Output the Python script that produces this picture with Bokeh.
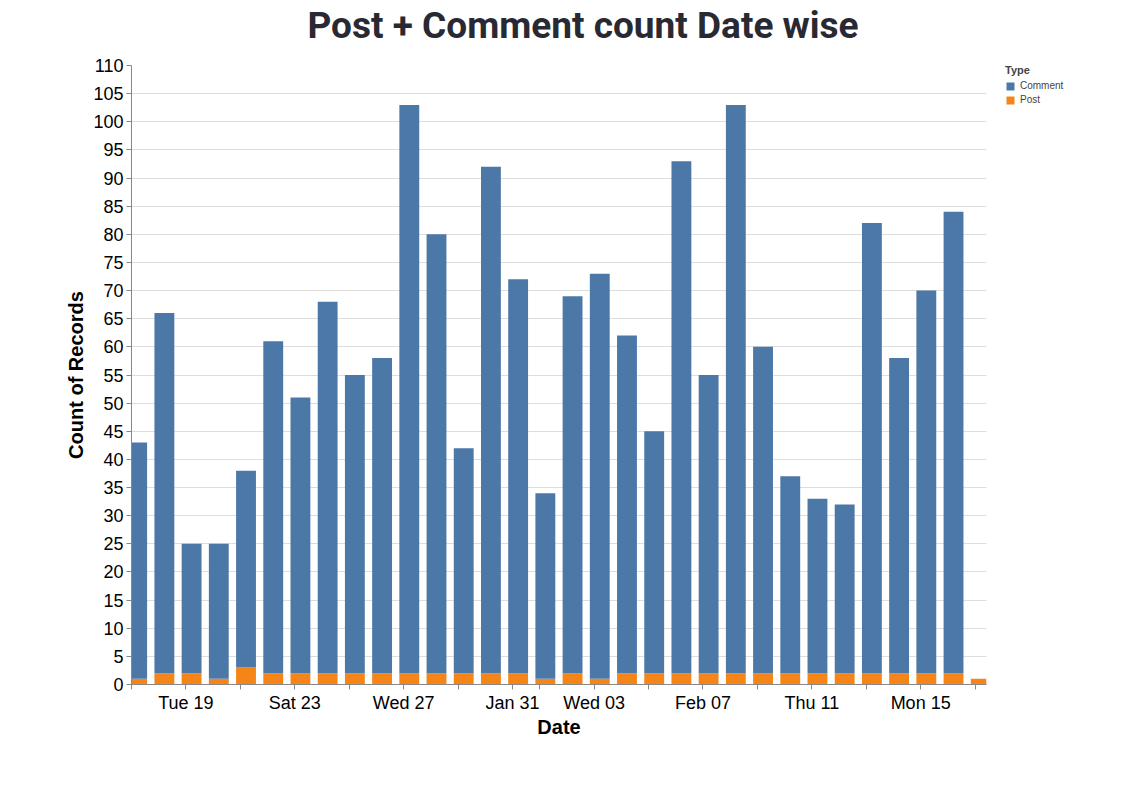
import pandas as pd
from bokeh.plotting import figure
from bokeh.models import (ColumnDataSource, FixedTicker, Legend, LegendItem,
                          Range1d, DatetimeAxis, Title)
from bokeh.embed import file_html
from bokeh.resources import INLINE

# ---- data ----
dates = ["2021-01-17", "2021-01-18", "2021-01-19", "2021-01-20", "2021-01-21",
         "2021-01-22", "2021-01-23", "2021-01-24", "2021-01-25", "2021-01-26",
         "2021-01-27", "2021-01-28", "2021-01-29", "2021-01-30", "2021-01-31",
         "2021-02-01", "2021-02-02", "2021-02-03", "2021-02-04", "2021-02-05",
         "2021-02-06", "2021-02-07", "2021-02-08", "2021-02-09", "2021-02-10",
         "2021-02-11", "2021-02-12", "2021-02-13", "2021-02-14", "2021-02-15",
         "2021-02-16", "2021-02-17"]
post = [1, 2, 2, 1, 3, 2, 2, 2, 2, 2, 2, 2, 2, 2, 2, 1,
        2, 1, 2, 2, 2, 2, 2, 2, 2, 2, 2, 2, 2, 2, 2, 1]
comment = [42, 64, 23, 24, 35, 59, 49, 66, 53, 56, 101, 78, 40, 90, 70, 33,
           67, 72, 60, 43, 91, 53, 101, 58, 35, 31, 30, 80, 56, 68, 82, 0]

tick_dates = ["2021-01-17", "2021-01-19", "2021-01-21", "2021-01-23", "2021-01-25",
              "2021-01-27", "2021-01-29", "2021-01-31", "2021-02-01", "2021-02-03",
              "2021-02-05", "2021-02-07", "2021-02-09", "2021-02-11", "2021-02-13",
              "2021-02-15", "2021-02-17"]
tick_labels = ["", "Tue 19", "", "Sat 23", "", "Wed 27", "", "Jan 31", "", "Wed 03",
               "", "Feb 07", "", "Thu 11", "", "Mon 15", ""]

BLUE = "#4c78a8"
ORANGE = "#f58518"
DAY = 86400000.0

dt = pd.to_datetime(dates)
x_ms = (dt.astype("int64") // 10**6).astype(float) + 5 * 3600 * 1000.0
total = [p_ + c_ for p_, c_ in zip(post, comment)]

src = ColumnDataSource(dict(x=list(x_ms), zero=[0] * len(post), post=post,
                            total=total))

t_ms = [float(v) for v in (pd.to_datetime(tick_dates).astype("int64") // 10**6)]
start = float(pd.Timestamp("2021-01-17").value // 10**6)

p = figure(frame_width=855, frame_height=619, output_backend="svg",
           toolbar_location=None, x_axis_type=None, tools="",
           x_range=Range1d(start, start + 31.42 * DAY), y_range=Range1d(0, 110),
           min_border_left=131, min_border_right=125, min_border_top=65,
           min_border_bottom=100)
p.outline_line_color = None
p.background_fill_color = "white"
p.border_fill_color = "white"

xaxis = DatetimeAxis(ticker=FixedTicker(ticks=t_ms))
xaxis.major_label_overrides = {t: l for t, l in zip(t_ms, tick_labels)}
p.add_layout(xaxis, "below")

r_post = p.vbar(x="x", bottom="zero", top="post", width=0.73 * DAY, source=src,
                fill_color=ORANGE, line_color=None)
r_com = p.vbar(x="x", bottom="post", top="total", width=0.73 * DAY, source=src,
               fill_color=BLUE, line_color=None)

p.yaxis.ticker = FixedTicker(ticks=list(range(0, 111, 5)))
for ax in (p.xaxis[0], p.yaxis[0]):
    ax.axis_line_color = "#888888"
    ax.major_tick_line_color = "#888888"
    ax.minor_tick_line_color = None
    ax.major_tick_out = 5
    ax.major_tick_in = 0
    ax.major_label_text_font = "Liberation Sans"
    ax.major_label_text_font_size = "18px"
    ax.major_label_text_color = "#000000"
    ax.axis_label_text_font = "Liberation Sans"
    ax.axis_label_text_font_size = "20px"
    ax.axis_label_text_font_style = "bold"
    ax.axis_label_text_color = "#000000"
p.yaxis.axis_label = "Count of Records"
p.xaxis.axis_label = "Date"
p.yaxis.major_label_standoff = 3
p.xaxis.major_label_standoff = 3
p.yaxis.axis_label_standoff = 3
p.xaxis.axis_label_standoff = 0

p.xgrid.grid_line_color = "#dddddd"
p.ygrid.grid_line_color = "#dddddd"
p.xgrid.ticker = p.xaxis[0].ticker

main_title = Title(text="Post + Comment count Date wise", text_font="Roboto",
                   text_font_style="bold", text_font_size="37px",
                   text_color="#292933", align="left", offset=176, standoff=0)
spacer = Title(text=" ", text_font_size="16px", standoff=0)
p.title = None
p.above = [spacer, main_title]

legend = Legend(items=[LegendItem(label="Comment", renderers=[r_com]),
                       LegendItem(label="Post", renderers=[r_post])],
                title="Type", location=(19, 579))
legend.title_text_font = "Liberation Sans"
legend.title_text_font_size = "11px"
legend.title_text_font_style = "bold"
legend.title_standoff = 4
legend.label_text_font = "Liberation Sans"
legend.label_text_font_size = "10px"
legend.glyph_width = 10
legend.glyph_height = 10
legend.label_height = 10
legend.spacing = 3
legend.label_standoff = 5
legend.padding = 0
legend.margin = 0
legend.border_line_color = None
legend.background_fill_alpha = 0
p.add_layout(legend, "right")

open("out.html", "w").write(file_html(p, INLINE))
